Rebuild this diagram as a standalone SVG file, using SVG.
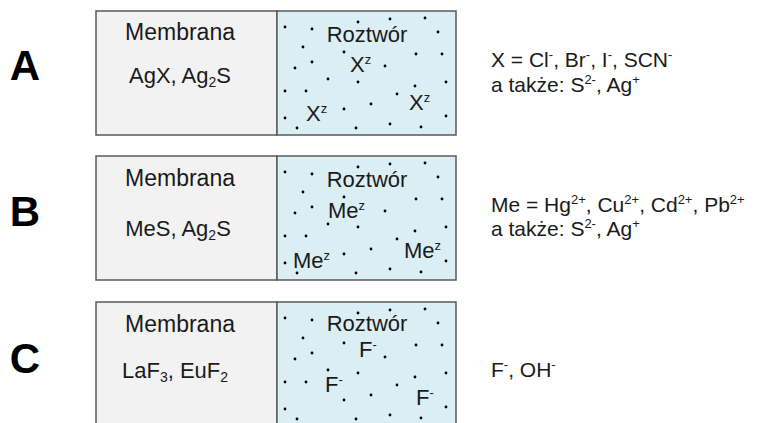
<svg xmlns="http://www.w3.org/2000/svg" xmlns:xlink="http://www.w3.org/1999/xlink" width="759" height="423" viewBox="0 0 759 423">
<style>
.mem{fill:#f2f2f2;stroke:#595959;stroke-width:1.5}
.sol{fill:#daeef3;stroke:#595959;stroke-width:1.5}
text{font-family:"Liberation Sans",Arial,sans-serif;fill:#1a1a1a}
.lbl{font-size:22px;text-anchor:middle}
.mb{font-size:23px}
.ion{font-size:22px}
.big{font-size:42px;font-weight:bold;text-anchor:middle;fill:#000}
.rt{font-size:21px}
.s{font-size:13px}
.sb{font-size:14px}
.dot{fill:#000}
</style>
<defs>
<g id="dots" class="dot">
<circle cx="285" cy="16" r="1.4"/><circle cx="312" cy="18" r="1.4"/><circle cx="358" cy="11" r="1.4"/><circle cx="390" cy="8" r="1.4"/><circle cx="425" cy="7" r="1.4"/><circle cx="438" cy="21" r="1.4"/><circle cx="303" cy="36" r="1.4"/><circle cx="344" cy="41" r="1.4"/><circle cx="416" cy="43" r="1.4"/><circle cx="442" cy="43" r="1.4"/><circle cx="312" cy="51" r="1.4"/><circle cx="295" cy="57" r="1.4"/><circle cx="385" cy="55" r="1.4"/><circle cx="328" cy="68" r="1.4"/><circle cx="358" cy="71" r="1.4"/><circle cx="415" cy="75" r="1.4"/><circle cx="446" cy="71" r="1.4"/><circle cx="285" cy="80" r="1.4"/><circle cx="306" cy="80" r="1.4"/><circle cx="397" cy="83" r="1.4"/><circle cx="371" cy="93" r="1.4"/><circle cx="344" cy="98" r="1.4"/><circle cx="285" cy="107" r="1.4"/><circle cx="446" cy="105" r="1.4"/><circle cx="297" cy="117" r="1.4"/><circle cx="356" cy="117" r="1.4"/><circle cx="390" cy="113" r="1.4"/><circle cx="421" cy="116" r="1.4"/>
</g>
</defs>
<rect width="759" height="423" fill="#fff"/>

<g id="panelA">
<text class="big" x="25" y="80">A</text>
<rect class="mem" x="96" y="11" width="181" height="124"/>
<rect class="sol" x="277" y="11" width="179" height="124"/>
<use xlink:href="#dots" transform="translate(0,11)"/>
<text class="lbl mb" x="180" y="40">Membrana</text>
<text class="lbl" x="180" y="83">AgX, Ag<tspan class="sb" dy="4">2</tspan><tspan dy="-4">S</tspan></text>
<text class="lbl" x="367" y="42">Roztwór</text>
<text class="ion" x="350" y="72">X<tspan class="s" dy="-8">z</tspan></text>
<text class="ion" x="306" y="121">X<tspan class="s" dy="-8">z</tspan></text>
<text class="ion" x="409" y="110">X<tspan class="s" dy="-8">z</tspan></text>
<text class="rt" x="491" y="67">X = Cl<tspan class="s" dy="-8">-</tspan><tspan dy="8">, Br</tspan><tspan class="s" dy="-8">-</tspan><tspan dy="8">, I</tspan><tspan class="s" dy="-8">-</tspan><tspan dy="8">, SCN</tspan><tspan class="s" dy="-8">-</tspan></text>
<text class="rt" x="491" y="92">a także: S<tspan class="s" dy="-8">2-</tspan><tspan dy="8">, Ag</tspan><tspan class="s" dy="-8">+</tspan></text>
</g>

<g id="panelB">
<text class="big" x="25" y="226">B</text>
<rect class="mem" x="96" y="156" width="181" height="124"/>
<rect class="sol" x="277" y="156" width="179" height="124"/>
<use xlink:href="#dots" transform="translate(0,156)"/>
<text class="lbl mb" x="180" y="186">Membrana</text>
<text class="lbl" x="178" y="236">MeS, Ag<tspan class="sb" dy="4">2</tspan><tspan dy="-4">S</tspan></text>
<text class="lbl" x="367" y="187">Roztwór</text>
<text class="ion" x="328" y="218">Me<tspan class="s" dy="-8">z</tspan></text>
<text class="ion" x="293" y="268">Me<tspan class="s" dy="-8">z</tspan></text>
<text class="ion" x="404" y="258">Me<tspan class="s" dy="-8">z</tspan></text>
<text class="rt" x="491" y="212">Me = Hg<tspan class="s" dy="-8">2+</tspan><tspan dy="8">, Cu</tspan><tspan class="s" dy="-8">2+</tspan><tspan dy="8">, Cd</tspan><tspan class="s" dy="-8">2+</tspan><tspan dy="8">, Pb</tspan><tspan class="s" dy="-8">2+</tspan></text>
<text class="rt" x="491" y="236">a także: S<tspan class="s" dy="-8">2-</tspan><tspan dy="8">, Ag</tspan><tspan class="s" dy="-8">+</tspan></text>
</g>

<g id="panelC">
<text class="big" x="25" y="373">C</text>
<rect class="mem" x="96" y="302" width="181" height="130"/>
<rect class="sol" x="277" y="302" width="179" height="130"/>
<use xlink:href="#dots" transform="translate(0,302)"/>
<text class="lbl mb" x="180" y="332">Membrana</text>
<text class="lbl" x="175" y="378">LaF<tspan class="sb" dy="4">3</tspan><tspan dy="-4">, EuF</tspan><tspan class="sb" dy="4">2</tspan></text>
<text class="lbl" x="367" y="331">Roztwór</text>
<text class="ion" x="359" y="357">F<tspan class="s" dy="-8">-</tspan></text>
<text class="ion" x="325" y="392">F<tspan class="s" dy="-8">-</tspan></text>
<text class="ion" x="416" y="405">F<tspan class="s" dy="-8">-</tspan></text>
<text class="rt" x="491" y="377">F<tspan class="s" dy="-8">-</tspan><tspan dy="8">, OH</tspan><tspan class="s" dy="-8">-</tspan></text>
</g>
</svg>
